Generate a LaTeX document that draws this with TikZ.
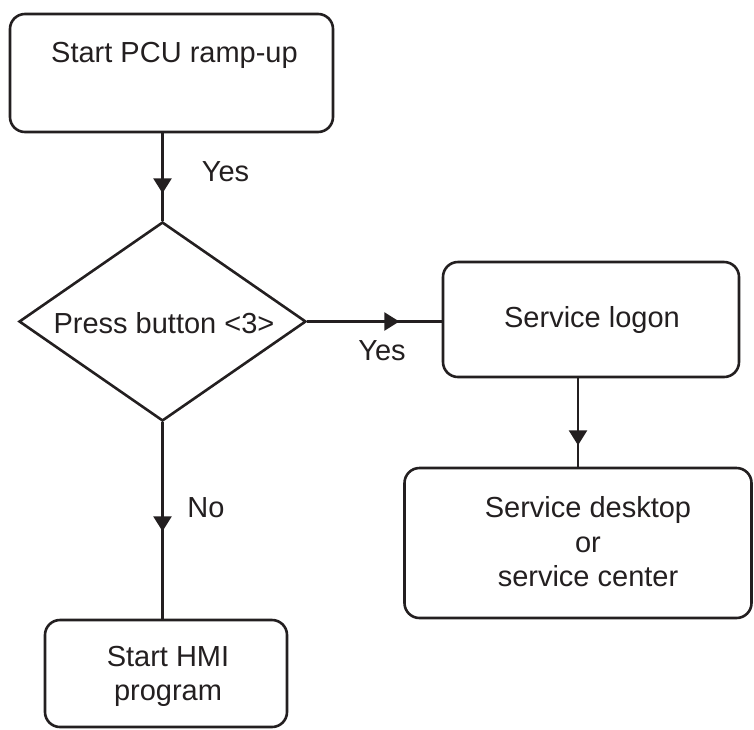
\documentclass[tikz,border=0pt]{standalone}
\usepackage{fontspec}
\setmainfont{Liberation Sans}
\usetikzlibrary{shapes.geometric,arrows.meta,decorations.markings}
\definecolor{ink}{RGB}{35,31,32}
\tikzset{
  line/.style={draw=ink, line width=2.6pt},
  box/.style={draw=ink, line width=2.6pt, rectangle, rounded corners=15pt},
  decision/.style={draw=ink, line width=2.6pt, diamond, inner sep=0pt},
  midarrow/.style={decoration={markings, mark=at position #1 with {\arrow[ink]{Triangle[width=18pt,length=15pt]}}}, postaction={decorate}},
  lbl/.style={inner sep=0pt}
}
\begin{document}
\begin{tikzpicture}[x=1pt,y=1pt, font=\fontsize{29}{34.5}\selectfont, text=ink]
\useasboundingbox (0,0) rectangle (754,-729);
\node[box, minimum width=323pt, minimum height=118pt,
  label={[yshift=17.5pt, xshift=3pt]center:Start PCU ramp-up}] (start) at (171.5,-73) {};
\node[decision, minimum width=287pt, minimum height=199pt,
  label={[yshift=-2pt, xshift=1.5pt]center:Press button <3>}] (press) at (162.5,-321.5) {};
\node[box, minimum width=296pt, minimum height=115pt,
  label={[xshift=1pt]center:Service logon}] (logon) at (591,-319.5) {};
\node[box, minimum width=347pt, minimum height=150pt,
  label={[align=center, xshift=10pt, yshift=1pt]center:{Service desktop\\or\\service center}}] (desk) at (578,-543) {};
\node[box, minimum width=242pt, minimum height=107pt,
  label={[align=center, xshift=2pt, yshift=-3pt]center:{Start HMI\\program}}] (hmi) at (166,-673.5) {};
\node[lbl] (yes1) at (225.5,-171.5) {Yes};
\node[lbl] (yes2) at (382,-350.5) {Yes};
\node[lbl] (no) at (206,-507.5) {No};
\draw[line, midarrow=60pt] (start.south -| press.north) -- (press.north);
\draw[line, midarrow=92pt] (press.east) -- (press.east -| logon.west);
\draw[line, midarrow=67pt] (logon.south -| desk.north) -- (desk.north);
\draw[line, midarrow=109pt] (press.south) -- (press.south |- hmi.north);
\end{tikzpicture}
\end{document}
